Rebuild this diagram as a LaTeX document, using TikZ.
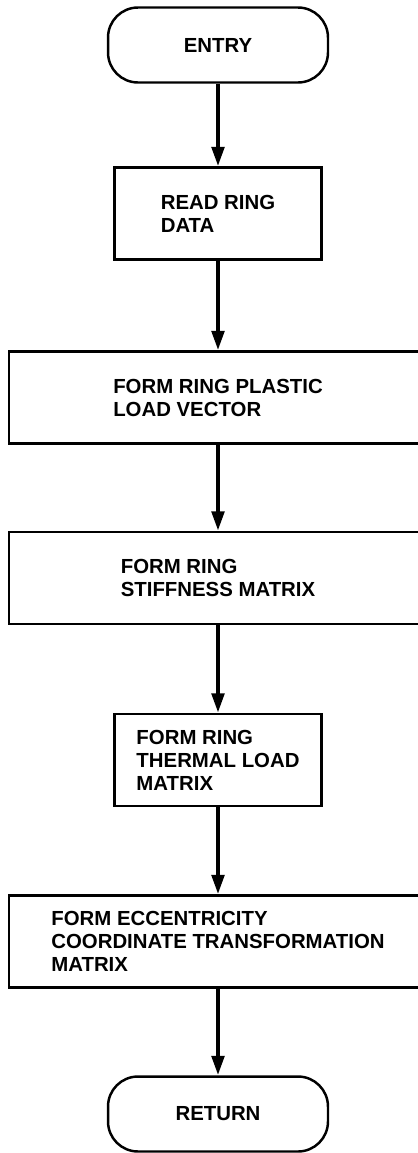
\documentclass[tikz,border=0pt]{standalone}
\usepackage{fontspec}
\setmainfont{Liberation Sans}
\usetikzlibrary{arrows.meta,positioning}

\begin{document}
\begin{tikzpicture}[x=0.02cm, y=-0.02cm, >={Triangle[length=11pt,width=7pt]}]
    \tikzset{
        term/.style={draw, line width=1.4pt, rectangle, rounded corners=0.6cm, minimum width=4.4cm, minimum height=1.5cm, font=\bfseries\fontsize{11.6}{13.1}\selectfont},
        block/.style={draw, line width=1.4pt, rectangle, minimum width=4.14cm, minimum height=1.84cm, align=left, font=\bfseries\fontsize{11.6}{13.1}\selectfont},
        wideblock/.style={block, minimum width=8.36cm},
        line/.style={draw, ->, line width=2.3pt}
    }
    \useasboundingbox (0,0) rectangle (418,1153);
    \clip (0,0) rectangle (418,1153);

    % Terminals and steps
    \node[term] (entry) at (218, 45) {ENTRY};
    \node[block] (read) at (218, 213.5) {READ RING\\DATA};
    \node[wideblock] (plastic) at (218, 397.5) {FORM RING PLASTIC\\LOAD VECTOR};
    \node[wideblock] (stiff) at (218, 578) {FORM RING\\STIFFNESS MATRIX};
    \node[block] (thermal) at (218, 760) {FORM RING\\THERMAL LOAD\\MATRIX};
    \node[wideblock] (ecc) at (218, 941.5) {FORM ECCENTRICITY\\COORDINATE TRANSFORMATION\\MATRIX};
    \node[term] (ret) at (218, 1114) {RETURN};

    % Flow
    \path[line] (entry) -- (read);
    \path[line] (read) -- (plastic);
    \path[line] (plastic) -- (stiff);
    \path[line] (stiff) -- (thermal);
    \path[line] (thermal) -- (ecc);
    \path[line] (ecc) -- (ret);
\end{tikzpicture}
\end{document}
